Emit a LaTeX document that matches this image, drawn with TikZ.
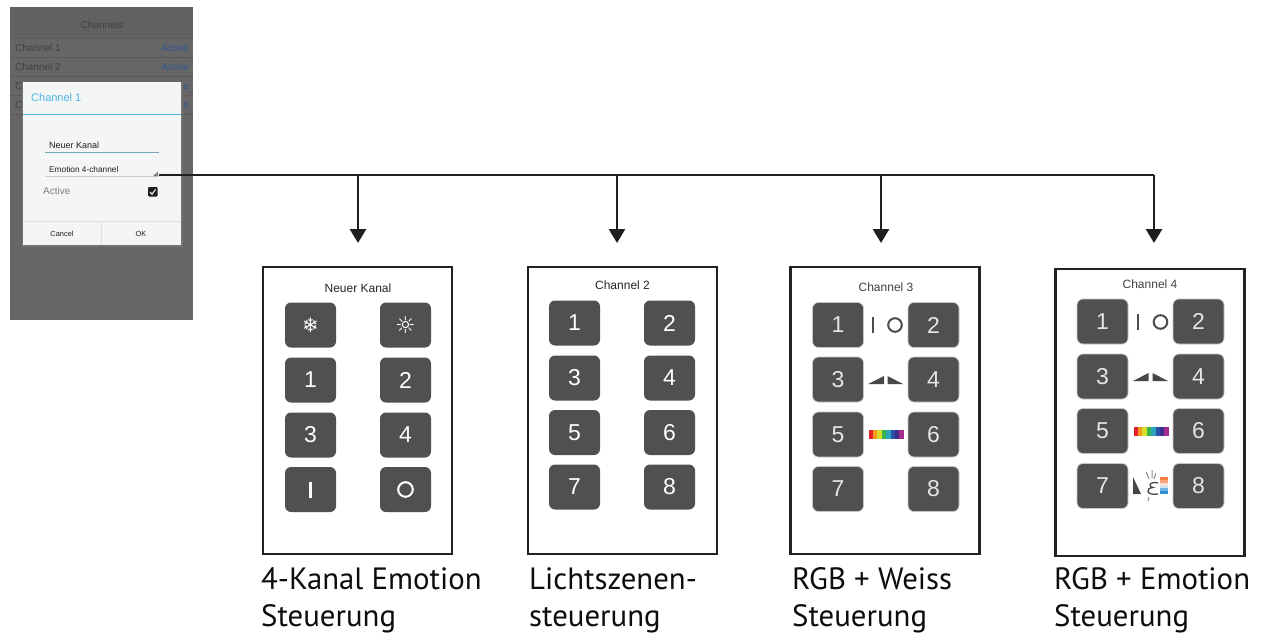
\documentclass[tikz,border=0pt]{standalone}
\usepackage{fontspec}
\setmainfont{Liberation Sans}
\newfontfamily\capfont{PT Sans}
\newfontfamily\symfont{DejaVu Sans}
\usetikzlibrary{arrows.meta,calc}
\definecolor{btnfill}{HTML}{505050}
\definecolor{scr}{HTML}{666666}
\definecolor{scrline}{HTML}{5A5A5A}
\definecolor{scrtxt}{HTML}{404040}
\definecolor{scrblue}{HTML}{30588F}
\definecolor{dlg}{HTML}{F4F5F5}
\definecolor{cyanish}{HTML}{4FB6E6}
\definecolor{frame}{HTML}{222222}
\definecolor{rb0}{HTML}{E8202A}
\definecolor{rb1}{HTML}{F39A1C}
\definecolor{rb2}{HTML}{D8DC2A}
\definecolor{rb3}{HTML}{38B44A}
\definecolor{rb4}{HTML}{2BA6B8}
\definecolor{rb5}{HTML}{2A4FA8}
\definecolor{rb6}{HTML}{3B2E8C}
\definecolor{rb7}{HTML}{A42A8C}
\definecolor{st0}{HTML}{F5803F}
\definecolor{st1}{HTML}{F9A67E}
\definecolor{st2}{HTML}{F8E0D6}
\definecolor{st3}{HTML}{CFE4F3}
\definecolor{st4}{HTML}{6FB5E4}
\definecolor{st5}{HTML}{2E90D4}
\newcommand{\fs}[1]{\fontsize{#1}{#1}\selectfont}
\tikzset{
  x=1pt,y=-1pt,
  panelbox/.style={draw=frame,line width=2.6pt,fill=white,minimum width=189pt,minimum height=287pt,inner sep=0pt},
  btn/.style={fill=btnfill,rounded corners=6pt,minimum width=51pt,minimum height=45pt,inner sep=0pt,text=white,font=\fs{23}},
  btnedge/.style={btn,draw=black!22,line width=0.7pt},
  ptitle/.style={inner sep=0pt,font=\fs{12},text=black!85},
  caption/.style={anchor=base west,inner sep=0pt,font=\capfont\fs{30.8},text=black!95},
  link/.style={line width=2.8pt,draw=black!88},
  arrowlink/.style={link,-{Triangle[length=14pt,width=16pt]}},
  scrtext/.style={inner sep=0pt,anchor=west,font=\fs{10},text=scrtxt},
  scrstat/.style={inner sep=0pt,anchor=east,font=\fs{10},text=scrblue},
  iconw/.style={draw=white,line width=2.8pt},
  iconwo/.style={draw=white,line width=2pt},
  icond/.style={draw=black!70,line width=2.4pt},
  icondo/.style={draw=black!70,line width=2pt},
}
\newcommand{\rainbow}[2]{% x, y top: 35 wide, 8.5 tall
  \foreach \i in {0,...,7}{
    \fill[color=rb\i] ({#1+\i*4.4},#2) rectangle ++(4.6,8.5);
  }
}
\begin{document}
\begin{tikzpicture}
\useasboundingbox (0,0) rectangle (1269,634);
\fill[white] (0,0) rectangle (1269,634);
% phone screen
\fill[scr] (10,7) rectangle (193,320);
\fill[black!62] (10,7) rectangle (193,38);
\node[inner sep=0pt,font=\fs{10},text=scrtxt] (stitle) at (102,25) {Channels};
\foreach \yy in {38,57,76,95,114} \draw[scrline,line width=0.7pt] (10,\yy) -- (193,\yy);
\node[scrtext] (c1) at (15,48) {Channel 1};
\node[scrtext] (c2) at (15,67) {Channel 2};
\node[scrtext] (c3) at (15,86) {C};
\node[scrtext] (c4) at (15,105) {C};
\node[scrstat] (a1) at (189,48) {Active};
\node[scrstat] (a2) at (189,67) {Active};
\node[scrstat] (a3) at (189,86) {Active};
\node[scrstat] (a4) at (189,105) {Active};
% dialog
\fill[black!55] (21.5,82.5) rectangle (182.5,247);
\fill[dlg] (22.5,82) rectangle (181,245);
\node[inner sep=0pt,anchor=west,font=\fs{11},text=cyanish] (dt) at (31,98) {Channel 1};
\draw[cyanish,line width=1pt] (22.5,114.5) -- (181,114.5);
\node[inner sep=0pt,anchor=west,font=\fs{9},text=black!88] (nk) at (49,145.5) {Neuer Kanal};
\draw[cyanish!70!black!70,line width=1pt] (45,152) -- (159,152);
\node[inner sep=0pt,anchor=west,font=\fs{8.3},text=black!88] (ec) at (49,170) {Emotion 4-channel};
\draw[black!20,line width=0.7pt] (45,176.5) -- (159,176.5);
\fill[black!50] (158,171.5) -- (158,176) -- (153,176) -- cycle;
\node[inner sep=0pt,anchor=west,font=\fs{10},text=black!50] (act) at (43,191) {Active};
\fill[black!88,rounded corners=1pt] (148,187) rectangle (157.5,196.5);
\draw[white,line width=1pt] (150,192) -- (152,194.2) -- (155.5,189.5);
\draw[black!12,line width=0.7pt] (22.5,221) -- (181,221);
\draw[black!12,line width=0.7pt] (101,221) -- (101,245);
\node[inner sep=0pt,font=\fs{7.4},text=black!88] (cancel) at (62,233.5) {Cancel};
\node[inner sep=0pt,font=\fs{7.4},text=black!88] (okb) at (141,233.5) {OK};

% panels
\node[panelbox] (p1) at (357.5,410.5) {};
\node[panelbox] (p2) at (622.5,410.5) {};
\node[panelbox] (p3) at (885,410.5) {};
\node[panelbox] (p4) at (1150,412.5) {};
\node[ptitle] (t1) at (358,288) {Neuer Kanal};
\node[ptitle] (t2) at (622.5,285.5) {Channel 2};
\node[ptitle,text=black!75] (t3) at (886,287.5) {Channel 3};
\node[ptitle,text=black!75] (t4) at (1150,284) {Channel 4};

% panel 1 buttons
\node[btn] (a11) at (310.5,325) {\symfont\fs{20}❄};
\node[btn] (a12) at (405.5,325) {\symfont\fs{23}☼};
\node[btn] (a21) at (310.5,380) {1};
\node[btn] (a22) at (405.5,380) {2};
\node[btn] (a31) at (310.5,435) {3};
\node[btn] (a32) at (405.5,435) {4};
\node[btn] (a41) at (310.5,489.5) {};
\node[btn] (a42) at (405.5,489.5) {};
\draw[iconw] (310.5,482) -- (310.5,498);
\draw[iconwo] (405.5,489.5) circle (7.3);
% panel 2 buttons
\foreach \nm/\yy/\l/\r in {1/323/1/2,2/378/3/4,3/432.5/5/6,4/487/7/8}{
  \node[btn] (b\nm l) at (574.5,\yy) {\l};
  \node[btn] (b\nm r) at (669.5,\yy) {\r};
}
% panel 3 buttons
\foreach \nm/\yy/\l/\r in {1/325/1/2,2/379.5/3/4,3/434.5/5/6,4/489/7/8}{
  \node[btnedge,text=white!90!black] (c\nm l) at (838,\yy) {\l};
  \node[btnedge,text=white!90!black] (c\nm r) at (933.5,\yy) {\r};
}
% panel 4 buttons
\foreach \nm/\yy/\l/\r in {1/321.5/1/2,2/376.5/3/4,3/431/5/6,4/486/7/8}{
  \node[btnedge,text=white!90!black] (d\nm l) at (1102.5,\yy) {\l};
  \node[btnedge,text=white!90!black] (d\nm r) at (1198.5,\yy) {\r};
}
% panel 3 icons
\draw[icond] (872.7,317) -- (872.7,333);
\draw[icondo] (895,325) circle (6.8);
\fill[black!72] (868,384) -- (884,376) -- (884,384) -- cycle;
\fill[black!72] (887.5,376) -- (903,384) -- (887.5,384) -- cycle;
\rainbow{868.5}{430}
% panel 4 icons
\draw[icond] (1137.7,314) -- (1137.7,329.5);
\draw[icondo] (1160.5,322) circle (6.8);
\fill[black!72] (1133,381) -- (1148.5,373) -- (1148.5,381) -- cycle;
\fill[black!72] (1152.5,373) -- (1168,381) -- (1152.5,381) -- cycle;
\rainbow{1133.5}{427}
\fill[black!72] (1133,477) -- (1141,494) -- (1133,494) -- cycle;
\draw[black!72,line width=1.3pt] (1158,483) .. controls (1150,481) and (1147,486) .. (1153,487.5) .. controls (1145,488) and (1146,496) .. (1158,494);
\draw[black!45,line width=1pt] (1146,472) -- (1149,479) (1152,470) -- (1152,478) (1156,473) -- (1154,479) (1149,497) -- (1148,501);
\foreach \i in {0,...,5}{
  \fill[color=st\i] (1160,{477+\i*2.85}) rectangle ++(8,2.9);
}

% captions
\node[caption] (k1a) at (261,589) {4-Kanal Emotion};
\node[caption] (k1b) at (261,626.5) {Steuerung};
\node[caption] (k2a) at (529,589) {Lichtszenen-};
\node[caption] (k2b) at (529,626.5) {steuerung};
\node[caption] (k3a) at (792,589) {RGB + Weiss};
\node[caption] (k3b) at (792,626.5) {Steuerung};
\node[caption] (k4a) at (1054,589) {RGB + Emotion};
\node[caption] (k4b) at (1054,626.5) {Steuerung};

% connectors
\coordinate (src) at (159,175);
\coordinate (j1) at (358,175);
\coordinate (j2) at (617,175);
\coordinate (j3) at (881,175);
\coordinate (j4) at (1154,175);
\coordinate (e1) at (358,243);
\coordinate (e2) at (617,243);
\coordinate (e3) at (881,243);
\coordinate (e4) at (1154,243);
\draw[link] (src) -- (j1) -- (j2) -- (j3) -- (j4);
\draw[arrowlink] (j1) -- (e1);
\draw[arrowlink] (j2) -- (e2);
\draw[arrowlink] (j3) -- (e3);
\draw[arrowlink] (j4) -- (e4);
\end{tikzpicture}
\end{document}
